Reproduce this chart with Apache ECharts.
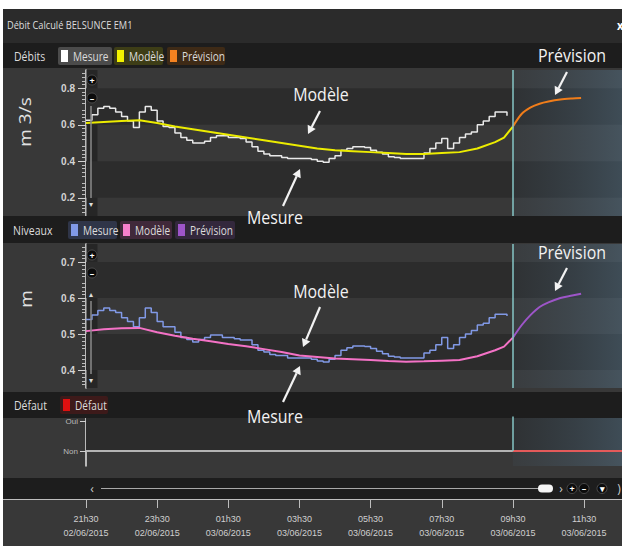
<!DOCTYPE html>
<html><head><meta charset="utf-8">
<script src="https://cdn.jsdelivr.net/npm/echarts@6/dist/echarts.min.js"></script>
<style>html,body{margin:0;padding:0;background:#fff}#c{width:625px;height:546px}</style>
</head><body><div id="c"></div>
<script>
// ---------------- DATA ----------------
const tickLabels = ['21h30\n02/06/2015','23h30\n02/06/2015','01h30\n03/06/2015','03h30\n03/06/2015',
                    '05h30\n03/06/2015','07h30\n03/06/2015','09h30\n03/06/2015','11h30\n03/06/2015'];
const tickStep = 120;          // minutes between ticks (from 21h30)
const xMax = 904;              // minutes shown
const nowMinute = 720;         // 09h30 : start of forecast

const mesureTimes = [0,10,20,30,40,50,60,70,80,90,100,110,120,130,140,150,160,170,180,190,
  200,210,220,230,240,250,260,270,280,290,300,310,320,330,340,350,360,370,380,390,
  400,410,420,430,440,450,460,470,480,490,500,510,520,530,540,550,560,570,580,590,
  600,610,620,630,640,650,660,670,680,690,700,710];
const mesureDebit = [0.625,0.655,0.69,0.70,0.69,0.67,0.645,0.62,0.585,0.67,
  0.70,0.68,0.62,0.59,0.585,0.555,0.53,0.515,0.50,0.50,
  0.51,0.53,0.54,0.54,0.53,0.53,0.525,0.505,0.48,0.455,
  0.44,0.43,0.43,0.42,0.415,0.415,0.415,0.415,0.41,0.40,
  0.395,0.415,0.43,0.46,0.47,0.48,0.48,0.475,0.46,0.45,
  0.44,0.425,0.42,0.415,0.415,0.415,0.415,0.445,0.47,0.50,
  0.525,0.47,0.50,0.53,0.55,0.56,0.60,0.62,0.645,0.67,
  0.67,0.65];
const mesureNiveau = [0.54,0.553,0.565,0.572,0.565,0.56,0.545,0.535,0.52,0.545,
  0.572,0.56,0.535,0.52,0.52,0.505,0.49,0.485,0.478,0.485,
  0.49,0.497,0.497,0.49,0.49,0.487,0.483,0.483,0.47,0.455,
  0.45,0.443,0.44,0.44,0.433,0.433,0.433,0.433,0.43,0.425,
  0.422,0.43,0.44,0.455,0.462,0.467,0.467,0.465,0.46,0.452,
  0.445,0.438,0.436,0.433,0.433,0.433,0.433,0.447,0.455,0.47,
  0.49,0.46,0.47,0.49,0.50,0.51,0.525,0.53,0.545,0.555,
  0.555,0.55];

const modelTimes = [0,30,60,90,120,150,180,210,240,270,300,330,360,390,420,450,480,510,540,570,600,630,660,690,705,720];
const modelDebit = [0.61,0.615,0.62,0.625,0.61,0.59,0.575,0.56,0.545,0.53,0.515,0.50,0.485,0.47,0.46,0.455,0.45,0.445,0.44,0.44,0.445,0.45,0.47,0.505,0.53,0.59];
const modelNiveau = [0.508,0.513,0.516,0.517,0.505,0.495,0.487,0.48,0.472,0.466,0.458,0.45,0.44,0.436,0.432,0.43,0.428,0.425,0.423,0.424,0.426,0.428,0.438,0.455,0.465,0.49];

const forecastTimes = [720,735,750,765,780,800,820,835];
const forecastDebit = [0.59,0.66,0.695,0.715,0.727,0.738,0.744,0.747];
const forecastNiveau = [0.49,0.525,0.553,0.575,0.588,0.60,0.607,0.612];

const defautTimes = [0,720,904];
const defautValues = [0,0,0];

const debitTicks = [0.2,0.4,0.6,0.8];
const niveauTicks = [0.4,0.5,0.6,0.7];
const defautTicks = [0,1];
const defautNames = {0:'Non',1:'Oui'};

// ---------------- STYLE / LAYOUT ----------------
const FONT = "'Open Sans','Liberation Sans',sans-serif";
const AXFONT = "'Liberation Sans','DejaVu Sans',sans-serif";
const SX = 0.84;   // horizontal squeeze of the original screenshot text
const pairs = (ts, vs) => ts.map((t,i)=>[t, vs[i]]);
const GL = 86, GW = 536;
const grids = [
  {left:GL, top:70, width:GW, height:146},
  {left:GL, top:244, width:GW, height:144},
  {left:GL, top:416.5, width:GW, height:49.5},
  {left:GL, top:499, width:GW, height:1}
];
const tickVals = tickLabels.map((_,i)=>i*tickStep);

const xAxes = grids.map((g,i)=>{
  const base = {type:'value', gridIndex:i, min:0, max:xMax, interval:tickStep, splitLine:{show:false}};
  if (i<3) return Object.assign(base,{show:false});
  return Object.assign(base,{
    axisLine:{show:false},
    axisTick:{show:true, customValues:tickVals, length:8, lineStyle:{color:'#bdbdbd', width:1}},
    axisLabel:{show:true, customValues:tickVals, margin:12, color:'#cfcfcf', fontSize:9, lineHeight:14,
      fontFamily:AXFONT, formatter:v=>{const k=Math.round(v/tickStep); return (Math.abs(v-k*tickStep)<1e-6 && tickLabels[k])?tickLabels[k]:'';}}
  });
});

function yAx(gi,min,max,interval,ticks,fmt,minor,lab){
  return {type:'value', gridIndex:gi, min, max, interval,
    axisLine:{show:true, lineStyle:{color:'#e4e4e4', width:1.5}},
    axisTick:{show:true, customValues:ticks, length:lab.tick, lineStyle:{color:'#d0d0d0', width:1}},
    minorTick:{show:minor>0, splitNumber:minor||5, length:4, lineStyle:{color:'#bdbdbd', width:1}},
    minorSplitLine:{show:false},
    axisLabel:{show:true, customValues:ticks, formatter:fmt, color:lab.color, fontSize:lab.size,
      fontWeight:lab.weight, fontFamily:AXFONT, margin:lab.margin},
    splitLine:{show:false}, splitArea:{show:false}};
}
const yAxes = [
  yAx(0,0.1,0.9,0.1,debitTicks,v=>v.toFixed(1),5,{tick:8,color:'#d4d4d4',size:10,weight:'bold',margin:11}),
  yAx(1,0.35,0.75,0.05,niveauTicks,v=>v.toFixed(1),5,{tick:8,color:'#d4d4d4',size:10,weight:'bold',margin:11}),
  yAx(2,-0.5,1.15,0.5,defautTicks,v=>defautNames[Math.round(v)]||'',0,{tick:6,color:'#bbbbbb',size:8,weight:'normal',margin:8}),
  {type:'value', gridIndex:3, show:false, min:0, max:1}
];

const fcGradient = {type:'linear', x:0, y:0, x2:1, y2:0, colorStops:[
  {offset:0, color:'rgba(70,95,115,0.12)'}, {offset:1, color:'rgba(90,125,150,0.40)'}]};
const DARK = '#2c2c2c';
function bgSeries(gi, bands, vline){
  return {type:'line', xAxisIndex:gi, yAxisIndex:gi, data:[], z:0, silent:true,
    markArea:{silent:true, emphasis:{disabled:true}, label:{show:false},
      data: bands.map(b=>[{yAxis:b[0], itemStyle:{color:DARK, opacity:1}},{yAxis:b[1]}])
        .concat([[{xAxis:nowMinute, itemStyle:{color:fcGradient, opacity:1}},{xAxis:xMax}]])},
    markLine:{silent:true, symbol:'none', label:{show:false}, emphasis:{disabled:true},
      lineStyle:{color:'#86c6c6', width:1.5, type:'solid'}, data: vline}};
}
function lineS(gi, data, color, width, step, smooth){
  return {type:'line', xAxisIndex:gi, yAxisIndex:gi, data, showSymbol:false, symbol:'none',
    step: step||false, smooth: smooth||false, z:3, silent:true,
    lineStyle:{color, width}, itemStyle:{color}, emphasis:{disabled:true}};
}

const series = [
  bgSeries(0, [[0.6,0.8],[0.2,0.4]], [{xAxis:nowMinute}]),
  bgSeries(1, [[0.6,0.7],[0.4,0.5]], [{xAxis:nowMinute}]),
  bgSeries(2, [[0,1.15]], [[{coord:[nowMinute,1.15]},{coord:[nowMinute,0]}]]),
  lineS(0, pairs(mesureTimes, mesureDebit), '#e9e9e9', 1.5, 'end'),
  lineS(0, pairs(modelTimes, modelDebit), '#ecec00', 2),
  lineS(0, pairs(forecastTimes, forecastDebit), '#f07d1a', 2, false, 0.3),
  lineS(1, pairs(mesureTimes, mesureNiveau), '#8199e6', 1.5, 'end'),
  lineS(1, pairs(modelTimes, modelNiveau), '#f472c6', 2),
  lineS(1, pairs(forecastTimes, forecastNiveau), '#9d55c8', 2, false, 0.3),
  lineS(2, pairs(defautTimes.slice(0,2), defautValues.slice(0,2)), '#b4b4b4', 2),
  lineS(2, pairs(defautTimes.slice(1), defautValues.slice(1)), '#e45a5a', 2)
];

// ---------------- GRAPHICS ----------------
function txt(text,x,y,size,color,opt){
  opt=opt||{};
  const rot = opt.rot||0;
  return {type:'text', x, y, z:opt.z||12, rotation:rot, scaleX: rot?1:(opt.sx||SX), scaleY: rot?SX:1, silent:true,
    style:{text, fill:color, font:(opt.weight||'normal')+' '+size+'px '+FONT,
      textAlign:opt.align||'left', align:opt.align||'left', textVerticalAlign:'middle', verticalAlign:'middle'}};
}
function rect(x,y,w,h,fill,z,r){return {type:'rect', shape:{x,y,width:w,height:h,r:r||0}, style:{fill}, z:z||1, silent:true};}
function arrow(x1,y1,x2,y2){
  const a=Math.atan2(y2-y1,x2-x1), L=8, W=4.5;
  const bx=x2-L*Math.cos(a), by=y2-L*Math.sin(a);
  return [{type:'line', shape:{x1,y1,x2:bx,y2:by}, style:{stroke:'#f2f2f2', lineWidth:2.2}, z:20, silent:true},
    {type:'polygon', shape:{points:[[x2,y2],[bx+W*Math.sin(a),by-W*Math.cos(a)],[bx-W*Math.sin(a),by+W*Math.cos(a)]]},
     style:{fill:'#f2f2f2'}, z:20, silent:true}];
}
function legendItem(x,w,y,bg,sq,label){
  return [rect(x,y,w,18,bg,6,2), rect(x+3,y+3,7,12,sq,7), txt(label,x+15,y+9.5,12,'#dcdcdc',{z:7})];
}
function btn(x,y,g){
  return [{type:'circle', shape:{cx:x,cy:y,r:5}, style:{fill:'#0c0c0c', stroke:'#555', lineWidth:0.8}, z:8, silent:true},
    txt(g,x,y,9,'#ffffff',{align:'center',weight:'bold',z:9,sx:1})];
}

const graphics = [].concat(
  // bars
  [rect(3,9,619,34,'#2b2b2b',5), rect(3,43,619,25,'#1d1d1d',5),
   rect(3,216,619,27,'#1d1d1d',5), rect(3,392,619,26,'#1d1d1d',5),
   rect(3,478,619,21,'#1d1d1d',5),
   {type:'line', shape:{x1:3,y1:499.5,x2:622,y2:499.5}, style:{stroke:'#bdbdbd', lineWidth:1.2}, z:6, silent:true},
   rect(86.5,70,11,146,'#262626',1), rect(86.5,244,11,144,'#262626',1)],
  [txt('Débit Calculé BELSUNCE EM1',7,25,11,'#dedede',{z:7}), txt('x',617,25,13,'#ffffff',{weight:'bold',z:7})],
  // legends
  [txt('Débits',14,56,12.5,'#dcdcdc',{z:7})],
  legendItem(58,54,47,'#4b4b4b','#ffffff','Mesure'),
  legendItem(114,49,47,'#3d3d16','#f2f200','Modèle'),
  legendItem(167,58,47,'#3e2a16','#f58220','Prévision'),
  [txt('Niveaux',13,230,12.5,'#dcdcdc',{z:7})],
  legendItem(68,49,221,'#2f3548','#8199e6','Mesure'),
  legendItem(120,52,221,'#40293a','#f77fcb','Modèle'),
  legendItem(175,60,221,'#33283c','#9d55c8','Prévision'),
  [txt('Défaut',14,405,12.5,'#dcdcdc',{z:7})],
  legendItem(60,48,396,'#3d1a1a','#e01010','Défaut'),
  // axis names
  [txt('m 3/s',25,122,19,'#e2e2e2',{rot:Math.PI/2,align:'center',z:7}),
   txt('m',26,299,19,'#e2e2e2',{rot:Math.PI/2,align:'center',z:7})],
  // zoom buttons / scroll bars
  btn(92,80,'+'), btn(92,98,'–'), btn(92,255,'+'), btn(92,273,'–'),
  [{type:'line', shape:{x1:91,y1:106,x2:91,y2:198}, style:{stroke:'#8a8a8a', lineWidth:1.5}, z:8, silent:true},
   txt('▾',91,203,8,'#dddddd',{align:'center',z:8,sx:1}),
   txt('▴',91,293,8,'#dddddd',{align:'center',z:8,sx:1}),
   {type:'line', shape:{x1:91,y1:301,x2:91,y2:374}, style:{stroke:'#8a8a8a', lineWidth:1.5}, z:8, silent:true},
   txt('▾',91,379,8,'#dddddd',{align:'center',z:8,sx:1})],
  // slider
  [txt('‹',92,488.5,12,'#cccccc',{align:'center',z:8,sx:1}),
   {type:'line', shape:{x1:101,y1:488.5,x2:539,y2:488.5}, style:{stroke:'#a8a8a8', lineWidth:1}, z:7, silent:true},
   rect(538,484.5,15,8,'#f4f4f4',8,4),
   txt('›',561,488.5,12,'#cccccc',{align:'center',z:8,sx:1})],
  btn(572,488.5,'+'), btn(584,488.5,'–'), btn(602,488.5,'▾'),
  [txt(')',619,488.5,12,'#cccccc',{align:'center',z:8,sx:1})],
  // annotations
  [txt('Modèle',321,93,19,'#f2f2f2',{align:'center',z:20}),
   txt('Mesure',275,216,19,'#f2f2f2',{align:'center',z:20}),
   txt('Prévision',572,54,19,'#f2f2f2',{align:'center',z:20}),
   txt('Modèle',321,290,19,'#f2f2f2',{align:'center',z:20}),
   txt('Mesure',275,415,19,'#f2f2f2',{align:'center',z:20}),
   txt('Prévision',572,251,19,'#f2f2f2',{align:'center',z:20})],
  arrow(320,111,308,134), arrow(283,206,300,169), arrow(567,72,555,95),
  arrow(320,307,303,347), arrow(283,402,300,366), arrow(567,268,555,291),
  // white frame
  [rect(0,0,625,9,'#ffffff',30), rect(0,0,3,546,'#ffffff',30), rect(622,0,3,546,'#ffffff',30)]
);

const chart = echarts.init(document.getElementById('c'), null, {renderer:'svg'});
chart.setOption({
  backgroundColor:'#383838',
  animation:false,
  grid:grids.map(g=>Object.assign({containLabel:false},g)),
  xAxis:xAxes, yAxis:yAxes, series, graphic:graphics
});
</script></body></html>
